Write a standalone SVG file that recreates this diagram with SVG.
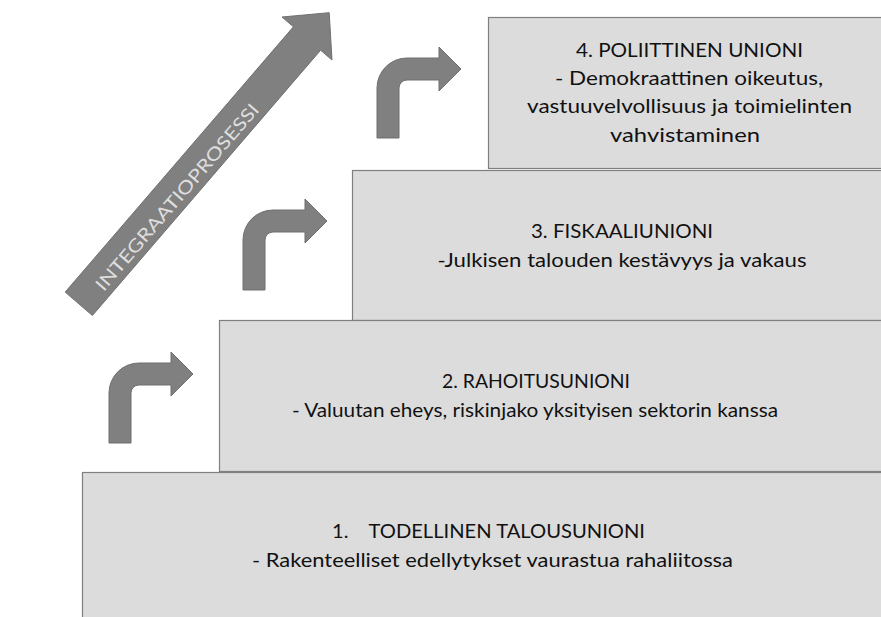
<svg xmlns="http://www.w3.org/2000/svg" width="881" height="617" viewBox="0 0 881 617">
<defs>
<style>
.box{fill:#dcdcdc;stroke:#7f7f7f;stroke-width:1.2}
.t{font-family:Lato,"Open Sans","Liberation Sans",sans-serif;font-size:19px;fill:#111;text-anchor:middle}
.arr{fill:#808080;stroke:#6f6f6f;stroke-width:1}
.big{fill:#808080;stroke:#707070;stroke-width:1}
.lbl{font-family:Lato,"Open Sans","Liberation Sans",sans-serif;font-size:18px;fill:#dedede;text-anchor:middle}
</style>
<path id="bent" d="M0,80 L0,30 A30,30 0 0 1 30,0 L62,0 L62,-11 L84,11 L62,33 L62,22 L30,22 A8,8 0 0 0 22,30 L22,80 Z"/>
</defs>
<rect width="881" height="617" fill="#fff"/>

<g id="node4">
<rect class="box" x="488.5" y="17.5" width="420" height="151"/>
<text class="t" x="689.5" y="56.7" textLength="227" lengthAdjust="spacingAndGlyphs">4. POLIITTINEN UNIONI</text>
<text class="t" x="689" y="85" textLength="268" lengthAdjust="spacingAndGlyphs">- Demokraattinen oikeutus,</text>
<text class="t" x="689.5" y="113.3" textLength="325" lengthAdjust="spacingAndGlyphs">vastuuvelvollisuus ja toimielinten</text>
<text class="t" x="685" y="141.7" textLength="150" lengthAdjust="spacingAndGlyphs">vahvistaminen</text>
</g>

<g id="node3">
<rect class="box" x="352.5" y="170.5" width="560" height="150"/>
<text class="t" x="622" y="238.3" textLength="182" lengthAdjust="spacingAndGlyphs">3. FISKAALIUNIONI</text>
<text class="t" x="622" y="266.7" textLength="369" lengthAdjust="spacingAndGlyphs">-Julkisen talouden kestävyys ja vakaus</text>
</g>

<g id="node2">
<rect class="box" x="219.5" y="320.5" width="700" height="151"/>
<text class="t" x="536" y="388.3" textLength="188" lengthAdjust="spacingAndGlyphs">2. RAHOITUSUNIONI</text>
<text class="t" x="535" y="417.3" textLength="486" lengthAdjust="spacingAndGlyphs">- Valuutan eheys, riskinjako yksityisen sektorin kanssa</text>
</g>

<g id="node1">
<rect class="box" x="82.5" y="472.5" width="840" height="160"/>
<text class="t" x="488.5" y="538.3" textLength="313" lengthAdjust="spacingAndGlyphs" xml:space="preserve">1.    TODELLINEN TALOUSUNIONI</text>
<text class="t" x="492.5" y="566.7" textLength="481" lengthAdjust="spacingAndGlyphs">- Rakenteelliset edellytykset vaurastua rahaliitossa</text>
</g>

<g id="integration-arrow">
<path class="big" d="M65.2,292.1 L293.4,26.8 L282,17 L329.2,12.7 L332,60 L320.6,50.2 L92.4,315.5 Z"/>
<text class="lbl" transform="translate(177,197) rotate(-49.3)" dy="6.5" textLength="240" lengthAdjust="spacingAndGlyphs">INTEGRAATIOPROSESSI</text>
</g>

<g id="connectors">
<use href="#bent" class="arr" x="109" y="363"/>
<use href="#bent" class="arr" x="243" y="210"/>
<use href="#bent" class="arr" x="377" y="58"/>
</g>
</svg>
